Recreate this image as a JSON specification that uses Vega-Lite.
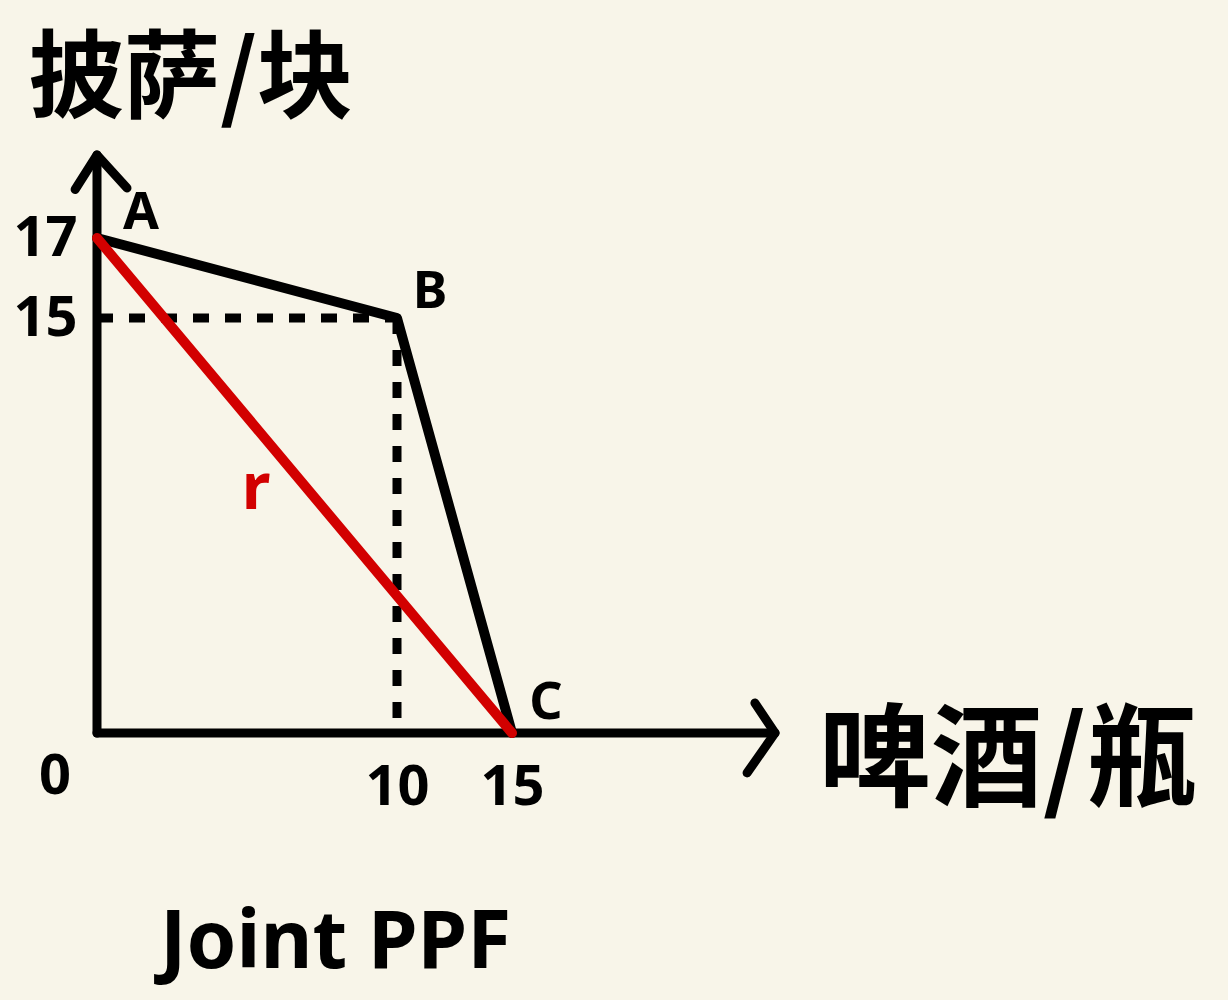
{
  "$schema": "https://vega.github.io/schema/vega-lite/v6.json",
  "width": 700,
  "height": 633,
  "autosize": {"type": "none"},
  "padding": {"left": 97, "top": 100, "right": 431, "bottom": 267},
  "background": "#f8f5e9",
  "config": {"view": {"stroke": null}, "font": "Noto Sans CJK SC"},
  "title": {
    "text": "Joint PPF",
    "orient": "bottom",
    "anchor": "start",
    "frame": "group",
    "font": "Noto Sans",
    "fontSize": 80,
    "fontWeight": "bold",
    "color": "#000000",
    "dx": 63,
    "offset": 86
  },
  "datasets": {
    "axes": [{"x": 0, "y": 0, "x2": 0, "y2": 19}, {"x": 0, "y": 0, "x2": 22, "y2": 0}],
    "dash": [{"x": 0, "y": 15, "x2": 10, "y2": 15}, {"x": 10, "y": 15, "x2": 10, "y2": 0}],
    "ppf": [{"x": 0, "y": 17}, {"x": 10, "y": 15}, {"x": 15, "y": 0}],
    "budget": [{"x": 0, "y": 17, "x2": 15, "y2": 0}],
    "arrows": [{"x": 0, "y": 19, "dir": "up"}, {"x": 22, "y": 0, "dir": "right"}],
    "points": [{"x": 0, "y": 17, "label": "A"}, {"x": 10, "y": 15, "label": "B"}, {"x": 15, "y": 0, "label": "C"}, {"x": 0, "y": 0, "label": "0"}],
    "rlabel": [{"x": 5.3, "y": 8.8, "label": "r"}]
  },
  "encoding": {
    "x": {
      "field": "x",
      "type": "quantitative",
      "scale": {"domain": [0, 10, 15, 22], "range": [0, 300, 415, 678], "nice": false, "zero": false},
      "axis": {
        "values": [10, 15],
        "domain": false,
        "ticks": false,
        "tickSize": 0,
        "grid": false,
        "labelFont": "Noto Sans",
        "labelFontSize": 56,
        "labelFontWeight": "bold",
        "labelColor": "#000000",
        "labelPadding": 54,
        "labelBaseline": "middle",
        "labelOverlap": false,
        "title": "啤酒/瓶",
        "titleFont": "Noto Sans CJK SC",
        "titleFontSize": 112,
        "titleFontWeight": "bold",
        "titleColor": "#000000",
        "titleAngle": 0,
        "titleX": 911,
        "titleY": 30,
        "titleAlign": "center",
        "titleBaseline": "middle"
      }
    },
    "y": {
      "field": "y",
      "type": "quantitative",
      "scale": {"domain": [0, 15, 17, 19], "range": [633, 218, 138, 55], "nice": false, "zero": false},
      "axis": {
        "values": [15, 17],
        "domain": false,
        "ticks": false,
        "tickSize": 0,
        "grid": false,
        "labelFont": "Noto Sans",
        "labelFontSize": 56,
        "labelFontWeight": "bold",
        "labelColor": "#000000",
        "labelPadding": 20,
        "labelAlign": "right",
        "labelBaseline": "middle",
        "labelOverlap": false,
        "title": "披萨/块",
        "titleFont": "Noto Sans CJK SC",
        "titleFontSize": 96,
        "titleFontWeight": "bold",
        "titleColor": "#000000",
        "titleAngle": 0,
        "titleX": 93,
        "titleY": -20,
        "titleAlign": "center",
        "titleBaseline": "middle"
      }
    }
  },
  "layer": [
    {
      "data": {"name": "axes"},
      "mark": {"type": "rule", "color": "#000000", "strokeWidth": 9, "strokeCap": "round"},
      "encoding": {"x2": {"field": "x2"}, "y2": {"field": "y2"}}
    },
    {
      "data": {"name": "dash"},
      "mark": {"type": "rule", "color": "#000000", "strokeWidth": 9, "strokeDash": [16, 16]},
      "encoding": {"x2": {"field": "x2"}, "y2": {"field": "y2"}}
    },
    {
      "data": {"name": "ppf"},
      "mark": {"type": "line", "color": "#000000", "strokeWidth": 10, "strokeCap": "round", "strokeJoin": "round"},
      "encoding": {}
    },
    {
      "data": {"name": "budget"},
      "mark": {"type": "rule", "color": "#d20000", "strokeWidth": 10, "strokeCap": "round"},
      "encoding": {"x2": {"field": "x2"}, "y2": {"field": "y2"}}
    },
    {
      "data": {"name": "arrows"},
      "transform": [{"filter": "datum.dir === 'up'"}],
      "mark": {"type": "point", "shape": "M-0.73,1.15L0,0L1,1.1", "size": 3600, "filled": false, "stroke": "#000000", "strokeWidth": 9, "strokeCap": "round", "strokeJoin": "round", "opacity": 1}
    },
    {
      "data": {"name": "arrows"},
      "transform": [{"filter": "datum.dir === 'right'"}],
      "mark": {"type": "point", "shape": "M-0.67,-1L0,0L-0.93,1.33", "size": 3600, "filled": false, "stroke": "#000000", "strokeWidth": 9, "strokeCap": "round", "strokeJoin": "round", "opacity": 1}
    },
    {
      "data": {"name": "points"},
      "transform": [{"filter": "datum.label === 'A'"}],
      "mark": {"type": "text", "font": "Noto Sans", "fontSize": 52, "fontWeight": "bold", "color": "#000000", "dx": 44, "dy": -25},
      "encoding": {"text": {"field": "label"}}
    },
    {
      "data": {"name": "points"},
      "transform": [{"filter": "datum.label === 'B'"}],
      "mark": {"type": "text", "font": "Noto Sans", "fontSize": 52, "fontWeight": "bold", "color": "#000000", "dx": 33, "dy": -26},
      "encoding": {"text": {"field": "label"}}
    },
    {
      "data": {"name": "points"},
      "transform": [{"filter": "datum.label === 'C'"}],
      "mark": {"type": "text", "font": "Noto Sans", "fontSize": 52, "fontWeight": "bold", "color": "#000000", "dx": 34, "dy": -30},
      "encoding": {"text": {"field": "label"}}
    },
    {
      "data": {"name": "points"},
      "transform": [{"filter": "datum.label === '0'"}],
      "mark": {"type": "text", "font": "Noto Sans", "fontSize": 56, "fontWeight": "bold", "color": "#000000", "dx": -42, "dy": 44},
      "encoding": {"text": {"field": "label"}}
    },
    {
      "data": {"name": "rlabel"},
      "mark": {"type": "text", "font": "Noto Sans", "fontSize": 64, "fontWeight": "bold", "color": "#d20000"},
      "encoding": {"text": {"field": "label"}}
    }
  ]
}
